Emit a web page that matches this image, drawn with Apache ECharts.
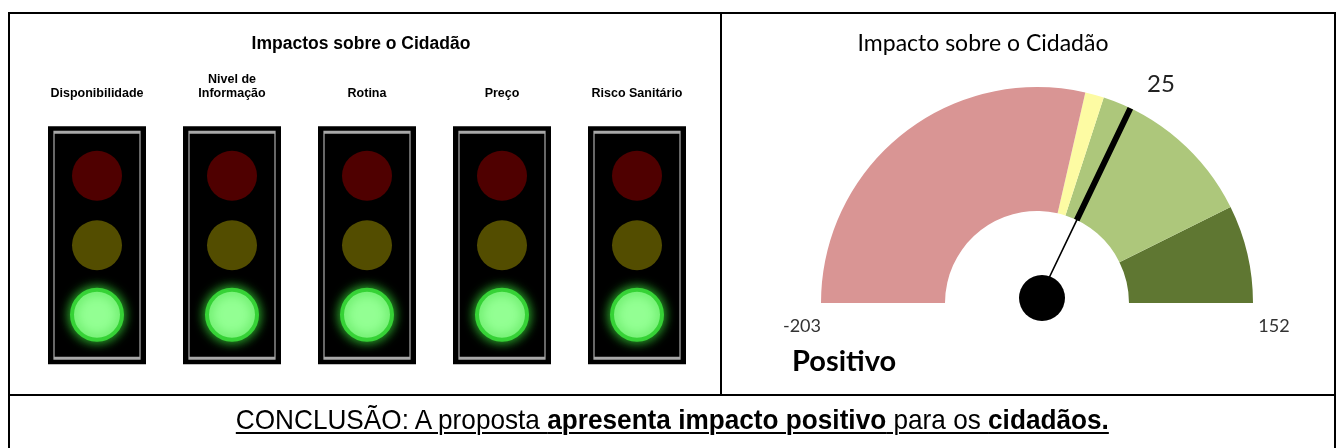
<!DOCTYPE html>
<html>
<head>
<meta charset="utf-8">
<script src="https://cdn.jsdelivr.net/npm/echarts@6/dist/echarts.min.js"></script>
<style>
html, body { margin: 0; padding: 0; background: #fff; }
#wrap { position: relative; width: 1337px; height: 448px; overflow: hidden; }
#chart { position: absolute; left: 0; top: 0; width: 1337px; height: 448px; }
#conclusao { position: absolute; left: 9px; width: 1326px; top: 402px; line-height: 36px; text-align: center;
  font-family: "Liberation Sans Narrow", "Arial Narrow", "Liberation Sans", sans-serif; font-size: 28px; color: #000;
  transform: scaleX(0.935); transform-origin: 668px 50%; }
#conclusao span.u { text-decoration: underline; text-decoration-thickness: 2px; text-underline-offset: 3px; }
</style>
</head>
<body>
<div id="wrap">
  <div id="chart"></div>
  <div id="conclusao"><span class="u">CONCLUSÃO: A proposta <b>apresenta impacto positivo</b> para os <b>cidadãos.</b></span></div>
</div>
<script>
// semaforos
var indicadores = ['Disponibilidade', 'Nivel de\nInformação', 'Rotina', 'Preço', 'Risco Sanitário'];
var estadoSemaforo = ['verde', 'verde', 'verde', 'verde', 'verde'];
var posicoesLuz = ['verde', 'amarelo', 'vermelho']; // de baixo para cima

// velocimetro
var escalaMin = -203;
var escalaMax = 152;
var limitesFaixa = [0, 10, 100, 152];
var impacto = 25;
var classificacao = 'Positivo';

var coresFaixa = ['#d99594', '#fdfba3', '#adc77b', '#5f7732'];
var corApagada = { vermelho: '#4f0000', amarelo: '#534d00', verde: '#0b3a0b' };
var corAcesa = { vermelho: '#ff3b3b', amarelo: '#ffe94a', verde: '#93ff93' };
var corBrilho = { vermelho: '#e02020', amarelo: '#d8c800', verde: '#36d236' };

var corEixo = limitesFaixa.map(function(v, i) {
  return [(v - escalaMin) / (escalaMax - escalaMin), coresFaixa[i]];
});

var caixas = indicadores.map(function(n, i) { return [i, 1]; });

var dadosLuzes = [];
indicadores.forEach(function(n, i) {
  posicoesLuz.forEach(function(luz, j) {
    var acesa = estadoSemaforo[i] === luz;
    dadosLuzes.push({
      value: [i, j],
      itemStyle: acesa
        ? { color: corAcesa[luz], borderColor: corBrilho[luz], borderWidth: 4, shadowBlur: 12, shadowColor: corBrilho[luz] }
        : { color: corApagada[luz] }
    });
  });
});

function texto(x, y, t, font, cor, align) {
  return {
    type: 'text', x: x, y: y, silent: true,
    style: { text: t, font: font, fill: cor || '#000',
      textAlign: align || 'center', textVerticalAlign: 'middle',
      align: align || 'center', verticalAlign: 'middle' }
  };
}

var chart = echarts.init(document.getElementById('chart'));
chart.setOption({
  animation: false,
  backgroundColor: '#fff',
  grid: { left: 29.5, width: 675, top: 141, height: 208.5 },
  xAxis: {
    type: 'category', data: indicadores, position: 'top',
    axisLine: { show: false }, axisTick: { show: false }, splitLine: { show: false },
    axisLabel: { interval: 0, margin: 40, color: '#000', fontFamily: 'Liberation Sans', fontWeight: 'bold', fontSize: 12.5, lineHeight: 14 }
  },
  yAxis: { type: 'category', data: posicoesLuz, show: false },
  series: [
    { type: 'scatter', silent: true, z: 1, symbol: 'rect', symbolSize: [98, 238], data: caixas,
      itemStyle: { color: '#000', opacity: 1 } },
    { type: 'scatter', silent: true, z: 2, symbol: 'rect', symbolSize: [86, 226], data: caixas,
      itemStyle: { color: 'rgba(0,0,0,0)', borderColor: '#a8a8a8', borderWidth: 2, opacity: 1 } },
    { type: 'scatter', silent: true, z: 3, symbol: 'circle', symbolSize: 50, data: dadosLuzes,
      itemStyle: { opacity: 1 } },
    {
      type: 'gauge', silent: true, center: [1037, 303], radius: 216, startAngle: 180, endAngle: 0,
      min: escalaMin, max: escalaMax,
      axisLine: { lineStyle: { width: 124, color: corEixo } },
      axisTick: { show: false }, splitLine: { show: false }, axisLabel: { show: false },
      pointer: {
        icon: 'path://M0,0L60,0L60,124L38,124L38,216L22,216L22,124L0,124Z',
        length: '100%', width: 6, keepAspect: false, itemStyle: { color: '#000' }
      },
      anchor: { show: true, showAbove: true, size: 46, offsetCenter: [5, -5], itemStyle: { color: '#000' } },
      title: { show: false },
      detail: { show: true, formatter: '{value}', offsetCenter: [124, -219], fontSize: 24,
        fontFamily: 'Lato', fontWeight: 'normal', color: '#222', valueAnimation: false },
      data: [{ value: impacto }]
    }
  ],
  graphic: [
    { type: 'rect', silent: true, shape: { x: 9, y: 13, width: 1326, height: 440 }, style: { fill: 'none', stroke: '#000', lineWidth: 2 } },
    { type: 'line', silent: true, shape: { x1: 721, y1: 13, x2: 721, y2: 395 }, style: { stroke: '#000', lineWidth: 2 } },
    { type: 'line', silent: true, shape: { x1: 9, y1: 395, x2: 1335, y2: 395 }, style: { stroke: '#000', lineWidth: 2 } },
    texto(361, 44, 'Impactos sobre o Cidadão', 'bold 17.5px "Liberation Sans"'),
    texto(983, 44, 'Impacto sobre o Cidadão', '23px Lato', '#000'),
    texto(802, 326, String(escalaMin), '18px Lato', '#333'),
    texto(1274, 326, String(escalaMax), '18px Lato', '#333'),
    texto(792, 362, classificacao, 'bold 29px Lato', '#000', 'left')
  ]
});
</script>
</body>
</html>
